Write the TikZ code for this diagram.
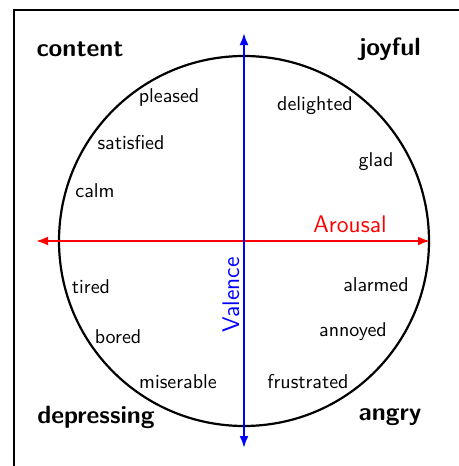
\documentclass[tikz,border=0pt]{standalone}
\usetikzlibrary{arrows.meta}
\begin{document}
\begin{tikzpicture}[x=0.5pt,y=-0.5pt,
  word/.style={font=\sffamily\fontsize{10}{12}\selectfont, inner sep=0pt},
  corner/.style={font=\sffamily\bfseries\fontsize{12.5}{14}\selectfont, inner sep=0pt},
  axis/.style={line width=1.1pt, {Latex[length=6pt,width=4.5pt]}-{Latex[length=6pt,width=4.5pt]}},
  axislabel/.style={font=\sffamily\fontsize{12}{14}\selectfont, inner sep=0pt}]
\useasboundingbox (0,0) rectangle (459,466);
\clip (0,0) rectangle (459,466);
\draw[line width=1.2pt] (14,10) rectangle (480,490);
\coordinate (c) at (244,241);
\draw[line width=1.1pt] (c) circle[radius=92.5pt];
\coordinate (L) at (36,241);
\coordinate (R) at (430,241);
\coordinate (T) at (244,33);
\coordinate (B) at (244,448);
\draw[axis, red] (L) -- (R);
\draw[axis, blue] (B) -- (T);
\node[axislabel, text=red] (arousal) at (350,224) {Arousal};
\node[axislabel, text=blue, rotate=90] (valence) at (231,295) {Valence};
\node[corner] (content) at (80,49) {content};
\node[corner] (joyful) at (390,49) {joyful};
\node[corner] (depressing) at (96,417) {depressing};
\node[corner] (angry) at (390,417) {angry};
\node[word] (pleased) at (169,97) {pleased};
\node[word] (delighted) at (315,106) {delighted};
\node[word] (satisfied) at (131,143) {satisfied};
\node[word] (glad) at (376,162) {glad};
\node[word] (calm) at (95,191) {calm};
\node[word] (tired) at (91,287) {tired};
\node[word] (alarmed) at (376,285) {alarmed};
\node[word] (bored) at (118,337) {bored};
\node[word] (annoyed) at (353,332) {annoyed};
\node[word] (miserable) at (178,382) {miserable};
\node[word] (frustrated) at (308,382) {frustrated};
\end{tikzpicture}
\end{document}
